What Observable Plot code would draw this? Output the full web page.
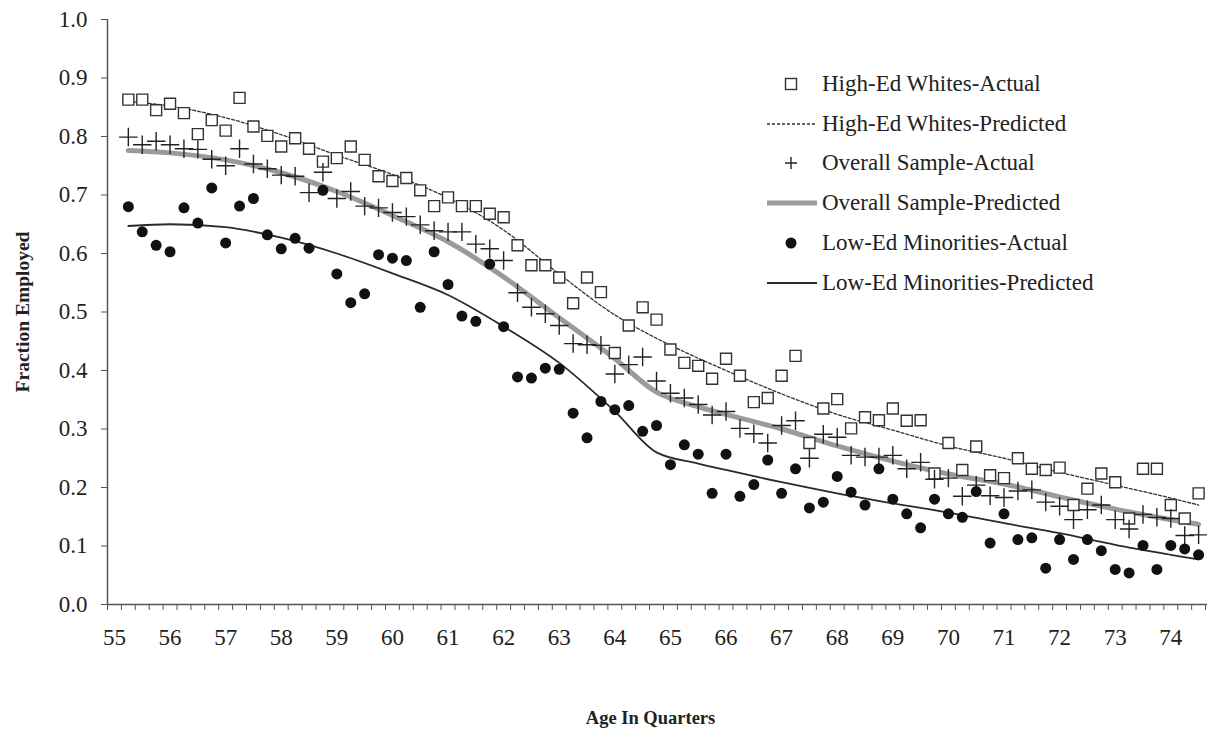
<!DOCTYPE html>
<html><head><meta charset="utf-8">
<script src="https://cdn.jsdelivr.net/npm/d3@7"></script>
<script src="https://cdn.jsdelivr.net/npm/@observablehq/plot@0.6"></script>
<style>
body{margin:0;background:#fff;}
#wrap{position:relative;width:1207px;height:731px;overflow:hidden;font-family:"Liberation Serif","Times New Roman",serif;background:#fff;}
#legend{position:absolute;left:765px;top:64px;font-size:23px;color:#222;}
#legend .row{display:flex;align-items:center;height:39.8px;white-space:nowrap;}
#legend svg{width:54px;height:20px;margin-right:3px;flex:none;}
</style></head><body><div id="wrap"></div>
<script>
// Categories: age in quarters
const ages = [55.25,55.5,55.75,56,56.25,56.5,56.75,57,57.25,57.5,57.75,58,58.25,58.5,58.75,59,59.25,59.5,59.75,60,
  60.25,60.5,60.75,61,61.25,61.5,61.75,62,62.25,62.5,62.75,63,63.25,63.5,63.75,64,64.25,64.5,64.75,65,
  65.25,65.5,65.75,66,66.25,66.5,66.75,67,67.25,67.5,67.75,68,68.25,68.5,68.75,69,69.25,69.5,
  69.75,70,70.25,70.5,70.75,71,71.25,71.5,71.75,72,72.25,72.5,72.75,73,73.25,73.5,73.75,74,74.25,74.5];

const highEdActual = [0.863,0.863,0.845,0.856,0.840,0.804,0.828,0.810,0.866,0.817,0.801,0.783,0.797,0.779,0.757,0.763,0.783,0.760,0.732,0.724,
  0.729,0.708,0.681,0.696,0.681,0.681,0.668,0.662,0.614,0.580,0.580,0.559,0.515,0.559,0.534,0.430,0.477,0.508,0.487,0.436,
  0.413,0.408,0.386,0.420,0.391,0.346,0.353,0.391,0.425,0.276,0.335,0.351,0.301,0.320,0.315,0.335,0.314,0.315,
  0.224,0.276,0.230,0.270,0.221,0.216,0.250,0.232,0.230,0.234,0.170,0.198,0.224,0.209,0.147,0.232,0.232,0.170,0.147,0.190];

const overallActual = [0.799,0.786,0.792,0.786,0.779,0.778,0.761,0.750,0.779,0.753,0.745,0.734,0.732,0.704,0.739,0.694,0.706,0.681,0.678,0.670,
  0.663,0.649,0.639,0.637,0.637,0.616,0.608,0.588,0.533,0.508,0.497,0.477,0.446,0.444,0.443,0.394,0.410,0.423,0.382,0.361,
  0.353,0.342,0.324,0.330,0.301,0.292,0.276,0.306,0.314,0.250,0.291,0.286,0.255,0.252,0.252,0.255,0.232,0.243,
  0.214,0.216,0.185,0.204,0.186,0.183,0.194,0.196,0.175,0.168,0.145,0.162,0.170,0.145,0.129,0.154,0.149,0.147,0.118,0.119];

const lowEdActual = [0.680,0.637,0.614,0.603,0.678,0.652,0.712,0.618,0.681,0.694,0.632,0.608,0.626,0.609,0.708,0.565,0.516,0.531,0.598,0.592,
  0.588,0.508,0.603,0.547,0.493,0.484,0.582,0.475,0.389,0.387,0.404,0.402,0.327,0.285,0.347,0.333,0.340,0.296,0.306,0.239,
  0.273,0.257,0.190,0.257,0.185,0.205,0.247,0.190,0.232,0.165,0.175,0.219,0.192,0.170,0.232,0.180,0.155,0.131,
  0.180,0.155,0.149,0.193,0.105,0.155,0.111,0.114,0.062,0.111,0.077,0.111,0.092,0.060,0.054,0.101,0.060,0.101,0.095,0.085];

// Predicted curves, read at these ages
const predAges = [55.25,56,57,58,59,60,61,62,63,64,64.75,65.5,66,67,68,69,70,71,72,73,74,74.5];
const highEdPred  = [0.860,0.852,0.832,0.803,0.768,0.735,0.695,0.640,0.565,0.495,0.455,0.421,0.400,0.360,0.325,0.298,0.271,0.250,0.226,0.204,0.182,0.170];
const overallPred = [0.776,0.772,0.760,0.738,0.706,0.665,0.620,0.560,0.490,0.420,0.363,0.338,0.325,0.300,0.271,0.245,0.223,0.206,0.184,0.163,0.145,0.137];
const lowEdPred   = [0.647,0.650,0.645,0.627,0.600,0.566,0.529,0.475,0.413,0.330,0.260,0.241,0.230,0.209,0.190,0.173,0.157,0.139,0.122,0.102,0.085,0.077];

const ageLabels = [55,56,57,58,59,60,61,62,63,64,65,66,67,68,69,70,71,72,73,74];
const yTicks = [0,0.1,0.2,0.3,0.4,0.5,0.6,0.7,0.8,0.9,1.0];

const legendItems = ["High-Ed Whites-Actual","High-Ed Whites-Predicted","Overall Sample-Actual",
  "Overall Sample-Predicted","Low-Ed Minorities-Actual","Low-Ed Minorities-Predicted"];

const xMin = 54.875, xMax = 74.66;
const boundaries = d3.range(xMin, xMax, 0.25);

const pts = (vals) => ages.map((a, i) => ({age: a, v: vals[i]}));
const pred = (vals) => predAges.map((a, i) => ({age: a, v: vals[i]}));

const chart = Plot.plot({
  width: 1207, height: 731,
  marginLeft: 107, marginRight: 0, marginTop: 19, marginBottom: 127,
  x: {domain: [xMin, xMax]},
  y: {domain: [0, 1]},
  style: {fontFamily: "'Liberation Serif', 'Times New Roman', serif", fontSize: "23px", color: "#222", background: "white", overflow: "visible"},
  marks: [
    Plot.axisY({ticks: yTicks, tickFormat: d3.format(".1f"), tickSize: 6, tickPadding: 14, label: null, stroke: "#555"}),
    Plot.axisX({ticks: boundaries, tickSize: 6, tickFormat: () => "", label: null, stroke: "#555"}),
    Plot.axisX({ticks: ageLabels, tickSize: 0, tickPadding: 24, label: null}),
    Plot.ruleX([xMin], {stroke: "#555", strokeWidth: 1.5}),
    Plot.ruleY([0], {stroke: "#555", strokeWidth: 1.5}),
    Plot.line(pred(overallPred), {x: "age", y: "v", stroke: "#9b9b9b", strokeWidth: 5, curve: "monotone-x"}),
    Plot.line(pred(highEdPred), {x: "age", y: "v", stroke: "#333", strokeWidth: 1.3, strokeDasharray: "3,2", curve: "monotone-x"}),
    Plot.line(pred(lowEdPred), {x: "age", y: "v", stroke: "#2a2a2a", strokeWidth: 1.8, curve: "monotone-x"}),
    Plot.dot(pts(highEdActual), {x: "age", y: "v", symbol: "square", r: 6.2, fill: "white", stroke: "#333", strokeWidth: 1.4}),
    Plot.dot(pts(overallActual), {x: "age", y: "v", symbol: "plus", r: 6, stroke: "#222", strokeWidth: 1.4}),
    Plot.dot(pts(lowEdActual), {x: "age", y: "v", symbol: "circle", r: 5.5, fill: "#111", stroke: "none"}),
    Plot.text(["Fraction Employed"], {frameAnchor: "left", textAnchor: "middle", lineAnchor: "middle", dx: -85, rotate: -90, fontWeight: "bold", fontSize: 19.5, fill: "#222"}),
    Plot.text(["Age In Quarters"], {frameAnchor: "bottom", textAnchor: "middle", lineAnchor: "middle", dx: -7, dy: 114, fontWeight: "bold", fontSize: 18.5, fill: "#222"})
  ]
});
const wrap = document.getElementById("wrap");
wrap.appendChild(chart);

// Legend
const legend = document.createElement("div");
legend.id = "legend";
const symbols = [
  '<rect x="20.5" y="4.5" width="11" height="11" fill="white" stroke="#333" stroke-width="1.4"/>',
  '<line x1="2" y1="10" x2="52" y2="10" stroke="#333" stroke-width="1.3" stroke-dasharray="3,2"/>',
  '<path d="M26,4V16M20,10H32" stroke="#222" stroke-width="1.4"/>',
  '<line x1="2" y1="10" x2="52" y2="10" stroke="#9b9b9b" stroke-width="5"/>',
  '<circle cx="26" cy="10" r="5.5" fill="#111"/>',
  '<line x1="2" y1="10" x2="52" y2="10" stroke="#2a2a2a" stroke-width="1.8"/>'
];
legendItems.forEach((name, i) => {
  const row = document.createElement("div");
  row.className = "row";
  row.innerHTML = '<svg viewBox="0 0 54 20">' + symbols[i] + '</svg><span>' + name + '</span>';
  legend.appendChild(row);
});
wrap.appendChild(legend);
</script>
</body></html>
